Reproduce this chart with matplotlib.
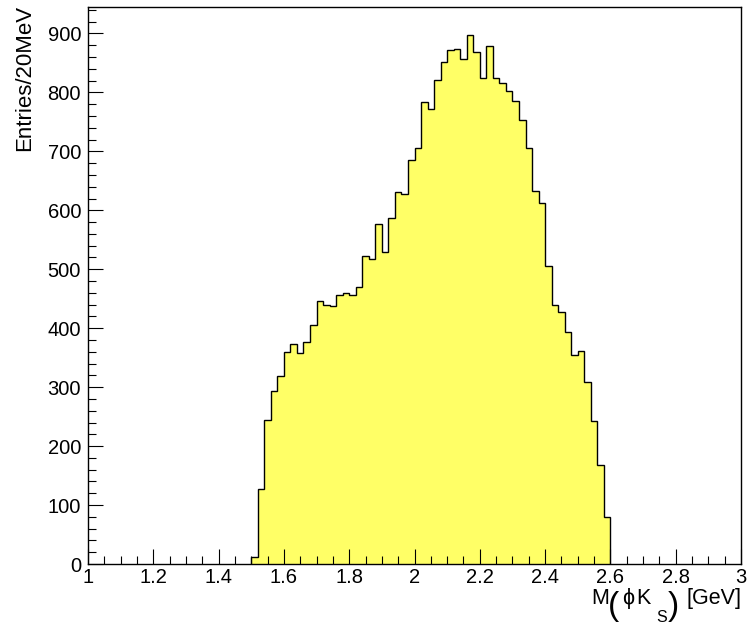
import numpy as np
import matplotlib
matplotlib.use('Agg')
import matplotlib.pyplot as plt
from matplotlib.ticker import MultipleLocator

plt.rcParams['font.family'] = ['Liberation Sans', 'DejaVu Sans']

# Histogram contents, 20 MeV bins starting at 1.50 GeV
bin_start = 1.50
bin_width = 0.02
counts = [12, 128, 245, 294, 319, 359, 373, 358, 377, 405,
          446, 440, 437, 456, 459, 456, 470, 522, 518, 576,
          529, 587, 631, 628, 686, 705, 783, 772, 821, 851,
          872, 873, 857, 898, 868, 825, 878, 825, 816, 802,
          785, 753, 706, 632, 612, 506, 439, 427, 394, 355,
          361, 309, 242, 168, 80]
edges = bin_start + bin_width * np.arange(len(counts) + 1)

x_ticks = [1, 1.2, 1.4, 1.6, 1.8, 2, 2.2, 2.4, 2.6, 2.8, 3]
x_ticklabels = ['1', '1.2', '1.4', '1.6', '1.8', '2', '2.2', '2.4', '2.6', '2.8', '3']

W, H = 752, 626
fig = plt.figure(figsize=(W / 100, H / 100), dpi=100)
ax = fig.add_axes([0.117, 0.099, 0.8684, 0.8899])

# fill and outline
ax.stairs(counts, edges, fill=True, color='#ffff66', linewidth=0)
ax.stairs(counts, edges, baseline=0, color='black', linewidth=1.0)

ax.set_xlim(1, 3)
ax.set_ylim(0, 945)
ax.set_xticks(x_ticks)
ax.set_xticklabels(x_ticklabels)
ax.xaxis.set_minor_locator(MultipleLocator(0.05))
ax.yaxis.set_major_locator(MultipleLocator(100))
ax.yaxis.set_minor_locator(MultipleLocator(20))

ax.tick_params(which='both', direction='in', top=False, right=False,
               labelsize=14.5, width=0.8, color='black')
ax.tick_params(which='major', length=11)
ax.tick_params(which='minor', length=6)
ax.tick_params(axis='x', pad=3)
ax.tick_params(axis='y', pad=5)
for s in ax.spines.values():
    s.set_linewidth(1.0)

# y title
fig.text(25 / W, 1 - 5 / H, 'Entries/20MeV', rotation=90,
         ha='center', va='top', fontsize=16)

# x title, ROOT style with tall brackets
def px(x, y):
    return x / W, 1 - y / H

lab = 15.5
base = 604
fig.text(*px(591, base), 'M', ha='left', va='baseline', fontsize=lab)
fig.text(*px(608, base + 2), '(', ha='left', va='center', fontsize=24)
fig.text(*px(622, base), '\u03d5', ha='left', va='baseline', fontsize=lab)
fig.text(*px(636, base), 'K', ha='left', va='baseline', fontsize=lab)
fig.text(*px(656, base + 18), 'S', ha='left', va='baseline', fontsize=11.5)
fig.text(*px(668, base + 2), ')', ha='left', va='center', fontsize=24)
fig.text(*px(742, base), '[GeV]', ha='right', va='baseline', fontsize=lab)

plt.savefig('out.png', dpi=100)
